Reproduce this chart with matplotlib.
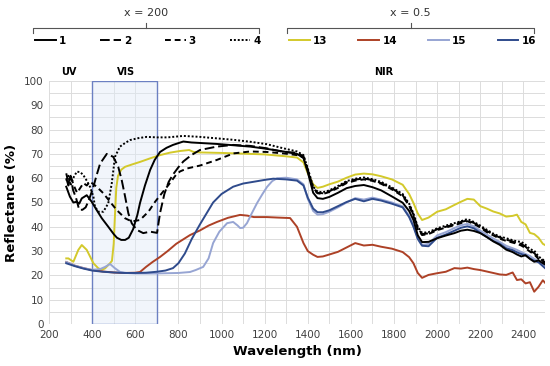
"""
Reflectance spectra (UV / VIS / NIR) for samples 1-4 (x = 200) and 13-16 (x = 0.5).
"""
import matplotlib
matplotlib.use("Agg")
import matplotlib.pyplot as plt
from matplotlib.lines import Line2D
from matplotlib.patches import Rectangle

# shared NIR wavelength grid (nm)
nir_wl = [1350, 1380, 1400, 1425, 1445, 1470, 1500, 1540, 1580, 1620, 1660, 1700, 1740, 1790,
          1840, 1870, 1890, 1910, 1930, 1960, 2000, 2040, 2080, 2110, 2140, 2170, 2200, 2230,
          2260, 2290, 2320, 2350, 2370, 2390, 2410, 2430, 2450, 2470, 2490, 2500]

# sample 1 (solid)
wl_1 = [280, 297, 313, 329, 340, 352, 375, 398, 421, 445, 475, 500, 515, 535, 553, 570, 590,
        610, 622, 645, 669, 690, 715, 745, 775, 823, 860, 900, 978, 1050, 1133, 1200, 1287]
r_1 = [56.5, 52.4, 50, 50.3, 49.5, 51.7, 53, 50.3, 46.9, 43.5, 40, 37, 35.5, 34.6, 34.6, 35.5, 39,
       45, 49.8, 57, 63.4, 67.5, 70.8, 72.5, 73.7, 75.1, 74.7, 74.5, 74.1, 73.6, 73, 72.2, 71]
nir_1 = [70, 68.3, 62.5, 54, 51.8, 51.5, 52.3, 54, 55.9, 56.8, 57.2, 56.3, 55, 52.5,
         49.9, 46.5, 42.8, 36.5, 33.7, 33.8, 35.3, 36.4, 37.4, 38.4, 38.8, 38.3, 37.4, 35.8,
         34, 32.6, 30.6, 29.6, 28.6, 27.8, 28.3, 26.8, 25.6, 26.2, 25, 24.5]

# sample 2 (long dash)
wl_2 = [280, 290, 300, 312, 325, 340, 355, 370, 385, 406, 420, 437, 468, 498, 521, 537, 553,
        568, 584, 608, 637, 669, 701, 715, 735, 755, 775, 800, 823, 860, 900, 978, 1055, 1133,
        1210, 1287]
r_2 = [60, 57, 61, 55, 52, 47, 47, 48, 51, 56.5, 61, 66, 70, 68.8, 64.7, 59.3, 52.4,
       45.5, 41.4, 38.7, 37.4, 38, 37.5, 45.7, 53.5, 58.5, 61.5, 64.5, 66.9, 69.5, 71.6, 73,
       73.7, 73.3, 72.3, 70.8]
nir_2 = [70.5, 69, 63.5, 56, 54, 53.8, 54.6, 56.4, 58.4, 59.4, 59.9, 59.2, 58, 55.8,
         53, 49, 45, 39.5, 37, 37.3, 39, 40, 41, 42, 42.6, 41.6, 40, 38.3,
         36.8, 35.6, 34.7, 34, 33.2, 33, 31.8, 30.2, 29.2, 27.2, 26, 25.5]

# sample 3 (short dash)
wl_3 = [280, 290, 300, 315, 330, 345, 360, 375, 390, 421, 452, 483, 514, 553, 584, 622, 661,
        692, 723, 754, 790, 808, 840, 900, 978, 1055, 1133, 1210, 1287]
r_3 = [62, 58, 61, 57, 54, 56, 58, 57, 58.6, 56.5, 53.8, 50.3, 46.9, 43.5, 42.2, 42.8, 46.2,
       50.3, 53.8, 57.2, 61.5, 62.8, 64, 65.2, 67.5, 70.2, 71, 70.8, 70.2]
nir_3 = [69.5, 68.6, 63, 55.7, 53.8, 53.5, 54.3, 56, 58, 59, 59.5, 58.9, 57.7, 55.4,
         52.6, 48.7, 44.5, 39, 36.6, 37, 38.6, 39.7, 40.7, 41.5, 42.3, 41.2, 39.7, 37.8,
         36.5, 35.1, 34.2, 33.5, 33, 32.3, 31.2, 29.8, 28.6, 26.8, 25.5, 25]

# sample 4 (dotted)
wl_4 = [280, 290, 300, 312, 329, 345, 359, 375, 390, 406, 413, 429, 452, 475, 491, 506, 529,
        553, 576, 615, 653, 700, 750, 823, 900, 978, 1055, 1133, 1210, 1287]
r_4 = [59, 61, 57, 60, 62.7, 62.5, 61.3, 59, 56.5, 52.4, 48.3, 46.2, 46.2, 49.7, 57.9, 68.8, 73,
       74.5, 75.7, 76.5, 77, 76.8, 76.8, 77.4, 77, 76.4, 75.8, 75, 74, 72.3]
nir_4 = [71, 69.5, 64, 56.5, 54.5, 54.2, 55, 56.8, 58.8, 59.8, 60.3, 59.6, 58.5, 56.2,
         53.5, 49.5, 45.5, 40, 37.5, 37.8, 39.4, 40.5, 41.5, 42.3, 43.2, 42, 40.5, 38.8,
         37.2, 36, 35.3, 34.5, 34, 33.8, 32.6, 30.8, 30.2, 27.8, 26.5, 26]

# sample 13 (yellow)
wl_13 = [280, 290, 313, 336, 352, 375, 406, 429, 446, 460, 483, 492, 500, 506, 512, 520, 535,
         553, 590, 622, 670, 715, 760, 808, 850, 870, 900, 1000, 1100, 1200, 1300]
r_13 = [27, 27, 25.6, 30.5, 32.5, 30.5, 25, 22.9, 22.3, 22.9, 25, 26, 33, 45, 56, 61, 63.5,
        64.7, 65.8, 66.7, 68.2, 69.5, 70.5, 71.2, 71.6, 70.8, 70.6, 70.4, 70.1, 69.8, 69]
nir_13 = [68.5, 66.5, 62, 57.5, 56, 56.5, 57.5, 58.6, 60.2, 61.5, 61.9, 61.6, 60.8, 59.5,
          57.3, 53.5, 49.8, 45.5, 42.8, 43.8, 46.2, 47.2, 49, 50.3, 51.5, 51.2, 48.5, 47.5,
          46.3, 45.5, 44.2, 44.5, 45, 42, 41, 37.5, 37, 35.5, 33, 32.5]

# sample 14 (red)
wl_14 = [280, 320, 360, 400, 450, 500, 550, 600, 622, 650, 680, 715, 750, 790, 822, 854, 900,
         940, 979, 1030, 1086, 1120, 1150, 1211, 1260, 1318]
r_14 = [25.5, 24, 23, 22.2, 21.6, 21.2, 21, 21.1, 21.4, 23.5, 25.5, 27.6, 30, 33, 34.8, 36.6, 38.5,
        40.5, 42, 43.7, 44.9, 44.6, 44, 44, 43.8, 43.6]
nir_14 = [40, 33.3, 30, 28.5, 27.6, 27.8, 28.6, 29.7, 31.5, 33.3, 32.3, 32.6, 31.8, 31,
          29.6, 27.5, 25, 21, 19, 20.2, 20.9, 21.5, 23, 22.8, 23.2, 22.6, 22.2, 21.6,
          21, 20.4, 20.2, 21.2, 18.1, 18.4, 16.7, 17.2, 13.3, 15.3, 18, 17]

# sample 15 (light blue)
wl_15 = [280, 320, 360, 400, 437, 460, 483, 505, 530, 560, 600, 700, 800, 854, 880, 915, 940,
         961, 990, 1026, 1054, 1075, 1086, 1100, 1118, 1140, 1165, 1190, 1211, 1235, 1258, 1300]
r_15 = [25.5, 24, 23, 22.3, 22.6, 23.5, 24.7, 23, 21.4, 21, 20.8, 20.8, 21, 21.4, 22.2, 23.5, 27,
        33.3, 38, 41.5, 42, 40.5, 39.5, 39.6, 41.5, 45.5, 49.8, 53.5, 56.4, 58.8, 60, 60.2]
nir_15 = [59.5, 57.5, 51.5, 46.5, 45, 45.2, 46.2, 48, 50, 51.8, 51.2, 52, 51.2, 50,
          48.4, 44.5, 40.5, 35.5, 32.5, 33, 36.5, 37.8, 39.5, 40.6, 41.2, 40.2, 38.4, 36.8,
          35.2, 33.8, 32.2, 31.2, 30.5, 29.6, 28.8, 28, 26.8, 25.8, 24.6, 24]

# sample 16 (dark blue)
wl_16 = [280, 320, 360, 400, 450, 500, 550, 600, 650, 700, 740, 775, 800, 830, 862, 900, 961,
         1000, 1054, 1100, 1147, 1200, 1240, 1300]
r_16 = [25, 23.8, 22.8, 22, 21.5, 21.2, 21, 21, 21.1, 21.5, 22, 23, 25, 29, 35, 41, 50,
        53.5, 56.5, 57.8, 58.5, 59.3, 59.8, 59.5]
nir_16 = [59, 57, 52, 47.5, 46, 46, 46.8, 48.5, 50.2, 51.5, 50.5, 51.5, 50.8, 49.5,
          48, 44, 40, 35, 32.2, 32, 35.5, 36.8, 38.4, 39.6, 40.2, 39.4, 37.5, 35.8,
          34.2, 33, 31.2, 30.4, 29.5, 28.8, 28.2, 27, 26, 25.4, 23.8, 23]

series = [
    ("1", wl_1, r_1, nir_1, "black", "-"),
    ("2", wl_2, r_2, nir_2, "black", (0, (5, 2))),
    ("3", wl_3, r_3, nir_3, "black", (0, (3, 2))),
    ("4", wl_4, r_4, nir_4, "black", (0, (1, 1))),
    ("13", wl_13, r_13, nir_13, "#d3c92b", "-"),
    ("14", wl_14, r_14, nir_14, "#ad4126", "-"),
    ("15", wl_15, r_15, nir_15, "#97a5d3", "-"),
    ("16", wl_16, r_16, nir_16, "#2f4b8c", "-"),
]

W, H = 550, 366
fig = plt.figure(figsize=(W / 100, H / 100), dpi=100)
ax = fig.add_axes([49 / W, 1 - 324 / H, 496 / W, 243 / H])

# VIS band box (semi-transparent so the grid shows through)
ax.add_patch(Rectangle((400, 0), 300, 100, facecolor=(0.88, 0.92, 0.97, 0.45),
                       edgecolor="#6c80c2", lw=1.0, zorder=1))

handles = {}
# draw coloured ones first, black on top
for name, wl, r, nir, col, ls in series[4:] + series[:4]:
    ln, = ax.plot(wl + nir_wl, r + nir, color=col, ls=ls, lw=1.4, zorder=3)
    handles[name] = ln

ax.set_xlim(200, 2500)
ax.set_ylim(0, 100)
ax.set_xticks(range(200, 2401, 200))
ax.set_yticks(range(0, 101, 10))
ax.set_xticks(range(200, 2501, 100), minor=True)
ax.set_yticks(range(0, 101, 5), minor=True)
ax.grid(which="both", color="#dcdcdc", lw=0.7, zorder=0)
ax.set_axisbelow(True)
for s in ax.spines.values():
    s.set_visible(False)
ax.tick_params(which="both", length=0, labelsize=7.5, colors="#404040", pad=4)

ax.set_xlabel("Wavelength (nm)", fontsize=9.5, fontweight="bold", labelpad=4)
ax.set_ylabel("Reflectance (%)", fontsize=9.5, fontweight="bold", labelpad=4)

for txt, x in [("UV", 293), ("VIS", 557), ("NIR", 1750)]:
    ax.text(x, 103.8, txt, fontsize=7, fontweight="bold", ha="center", va="center")


def px(x, y):
    return x / W, 1 - y / H


# group brackets and legends
for x0, x1, title, names in [(33, 259, "x = 200", ["1", "2", "3", "4"]),
                             (287, 534, "x = 0.5", ["13", "14", "15", "16"])]:
    xm = (x0 + x1) / 2
    pts = [px(x0, 33), px(x0, 28), px(x1, 28), px(x1, 33)]
    fig.add_artist(Line2D([p[0] for p in pts], [p[1] for p in pts], color="#555555", lw=0.8))
    fig.add_artist(Line2D([px(xm, 28)[0]] * 2, [px(xm, 28)[1], px(xm, 23)[1]],
                          color="#555555", lw=0.8))
    fig.text(*px(xm, 13), title, fontsize=8, ha="center", va="center", color="#333333")
    lx0, ly = px(x0 + 2, 46)
    lx1, _ = px(x1 + 2, 46)
    fig.legend([handles[n] for n in names], names, loc="lower left", ncol=4, mode="expand",
               bbox_to_anchor=(lx0, ly, lx1 - lx0, 0.05), frameon=False,
               prop={"size": 7.5, "weight": "bold"}, handlelength=2.0, handletextpad=0.3,
               borderaxespad=0, borderpad=0)

fig.savefig("out.png", dpi=100)
